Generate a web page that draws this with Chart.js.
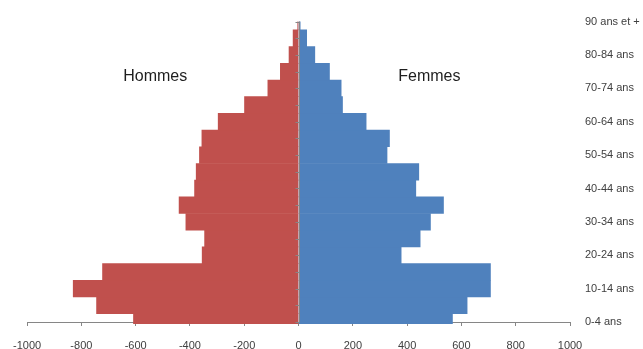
<!DOCTYPE html>
<html lang="fr">
<head>
<meta charset="utf-8">
<title>Pyramide des âges</title>
<script src="https://cdn.jsdelivr.net/npm/chart.js@4/dist/chart.umd.min.js"></script>
<style>
  html, body { margin: 0; padding: 0; background: #ffffff; }
  #wrap { width: 643px; height: 349px; }
</style>
</head>
<body>
<div id="wrap"><canvas id="pyramide" width="643" height="349"></canvas></div>
<script>
// Age groups, from youngest (bottom) to oldest (top)
const ageGroups = [
  '0-4 ans', '5-9 ans', '10-14 ans', '15-19 ans', '20-24 ans', '25-29 ans',
  '30-34 ans', '35-39 ans', '40-44 ans', '45-49 ans', '50-54 ans', '55-59 ans',
  '60-64 ans', '65-69 ans', '70-74 ans', '75-79 ans', '80-84 ans', '85-89 ans',
  '90 ans et +'
];

// Men are plotted on the negative side of the axis
const hommes = [
  -608, -744, -830, -722, -355, -346, -415, -440, -383, -377,
  -365, -356, -296, -199, -113, -67, -35, -20, -3
];

// Women on the positive side
const femmes = [
  567, 621, 707, 707, 378, 448, 486, 534, 432, 443,
  326, 335, 249, 162, 157, 114, 60, 30, 6
];

// Value axis ticks
const xMin = -1000;
const xMax = 1000;
const xStep = 200;

const axisGrey = '#868686';
const textGrey = '#404040';

// Vertical axis through zero, with small tick marks on each age group
const centreAxis = {
  id: 'centreAxis',
  afterDatasetsDraw(chart) {
    const { ctx, chartArea, scales } = chart;
    const x0 = Math.round(scales.x.getPixelForValue(0)) + 0.5;
    ctx.save();
    ctx.strokeStyle = axisGrey;
    ctx.lineWidth = 1;
    ctx.beginPath();
    ctx.moveTo(x0, chartArea.top);
    ctx.lineTo(x0, chartArea.bottom);
    scales.y.ticks.forEach((t, i) => {
      const y = Math.round(scales.y.getPixelForTick(i)) + 0.5;
      ctx.moveTo(x0 - 4, y);
      ctx.lineTo(x0, y);
    });
    ctx.stroke();
    ctx.restore();
  }
};

// Side titles
const sideTitles = {
  id: 'sideTitles',
  afterDraw(chart) {
    const { ctx, scales } = chart;
    const y = scales.y.getPixelForValue(14.7);
    ctx.save();
    ctx.font = '16px "Liberation Sans", Arial, sans-serif';
    ctx.fillStyle = '#1e1e1e';
    ctx.textAlign = 'center';
    ctx.textBaseline = 'middle';
    ctx.fillText('Hommes', scales.x.getPixelForValue(-528), y);
    ctx.fillText('Femmes', scales.x.getPixelForValue(482), y);
    ctx.restore();
  }
};

new Chart(document.getElementById('pyramide'), {
  type: 'bar',
  data: {
    labels: ageGroups,
    datasets: [
      {
        label: 'Hommes',
        data: hommes,
        backgroundColor: '#C0504D',
        borderWidth: 0,
        barPercentage: 1,
        categoryPercentage: 1,
        clip: { left: 0, top: 0, right: 0, bottom: 2 }
      },
      {
        label: 'Femmes',
        data: femmes,
        backgroundColor: '#4F81BD',
        borderWidth: 0,
        barPercentage: 1,
        categoryPercentage: 1,
        clip: { left: 0, top: 0, right: 0, bottom: 2 }
      }
    ]
  },
  options: {
    indexAxis: 'y',
    responsive: false,
    animation: false,
    layout: { padding: { top: 17, left: 27, right: 0, bottom: 0 } },
    plugins: {
      legend: { display: false },
      tooltip: { enabled: false }
    },
    scales: {
      x: {
        type: 'linear',
        stacked: true,
        min: xMin,
        max: xMax,
        afterFit(scale) { scale.height = 27; },
        ticks: {
          stepSize: xStep,
          color: textGrey,
          font: { family: '"Liberation Sans", Arial, sans-serif', size: 11 },
          padding: 13,
          maxRotation: 0,
          callback(value) { return String(value); }
        },
        grid: {
          drawOnChartArea: false,
          drawTicks: true,
          tickLength: 4,
          color: axisGrey
        },
        border: { display: true, color: axisGrey, width: 1 }
      },
      y: {
        type: 'category',
        position: 'right',
        stacked: true,
        reverse: true,
        offset: false,
        afterFit(scale) { scale.width = 73; },
        ticks: {
          autoSkip: false,
          color: textGrey,
          font: { family: '"Liberation Sans", Arial, sans-serif', size: 11 },
          padding: 15,
          callback(value, index) {
            return index % 2 === 0 ? ageGroups[index] : '';
          }
        },
        grid: { display: false, drawTicks: false },
        border: { display: false }
      }
    }
  },
  plugins: [centreAxis, sideTitles]
});
</script>
</body>
</html>
